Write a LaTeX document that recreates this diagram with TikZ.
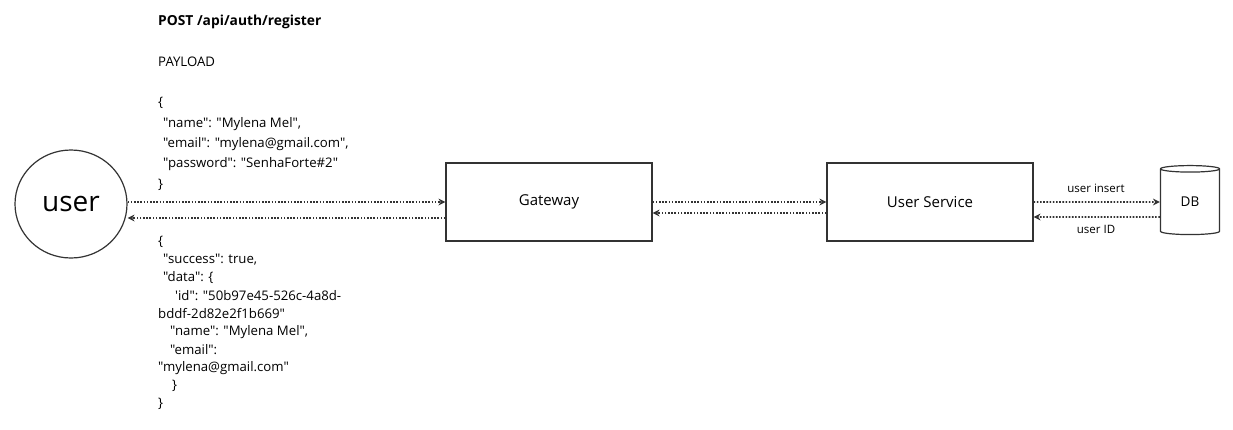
\documentclass[tikz,border=0pt]{standalone}
\usepackage{fontspec}
\setmainfont{Open Sans}[Ligatures=TeXOff]
\usetikzlibrary{arrows.meta,shapes.geometric,calc}
\definecolor{ink}{HTML}{333333}
\tikzset{
  x=1pt,y=-1pt,
  txt/.style={anchor=west,inner sep=0pt,text=black,font=\fontsize{13.2}{15}\selectfont},
  lbl/.style={inner sep=0pt,text=black,font=\fontsize{11.5}{13}\selectfont},
  boxs/.style={draw=ink,line width=1.2pt,minimum width=206pt,minimum height=78pt,inner sep=0pt,font=\fontsize{15}{17}\selectfont},
  arr/.style={draw=ink,line width=1.6pt,dash pattern=on 1.6pt off 1.6pt,-{Stealth[length=7pt,width=7pt,line width=0pt]}}
}
\begin{document}
\begin{tikzpicture}
\useasboundingbox (0,0) rectangle (1233,429);
% user
\node[ellipse,draw=ink,line width=1.2pt,minimum width=112pt,minimum height=108pt,inner sep=0pt,font=\fontsize{28}{30}\selectfont] (user) at (71,204) {user};
% boxes
\node[boxs] (gw) at (549,202) {Gateway};
\node[boxs] (us) at (930,202) {User Service};
\node[cylinder,shape border rotate=90,draw=ink,line width=1.2pt,minimum width=59pt,minimum height=69pt,aspect=0.35,inner sep=0pt,font=\fontsize{13.5}{15}\selectfont] (db) at (1190,202) {DB};
% header texts
\node[txt,font=\bfseries\fontsize{13.8}{15}\selectfont] (hdr) at (158,22) {POST /api/auth/register};
\node[txt] (pl) at (158,62) {PAYLOAD};
\node[txt] (p1) at (158,103) {\{};
\node[txt] (p2) at (163,124) {"name": "Mylena Mel",};
\node[txt] (p3) at (163,144) {"email": "mylena@gmail.com",};
\node[txt] (p4) at (163,164) {"password": "SenhaForte\#2"};
\node[txt] (p5) at (158,185) {\}};
% response
\node[txt] (r1) at (158,242) {\{};
\node[txt] (r2) at (163,260) {"success": true,};
\node[txt] (r3) at (163,278) {"data": \{};
\node[txt] (r4) at (175,296) {'id": "50b97e45-526c-4a8d-};
\node[txt] (r5) at (158,314) {bddf-2d82e2f1b669"};
\node[txt] (r6) at (170,332) {"name": "Mylena Mel",};
\node[txt] (r7) at (170,350) {"email":};
\node[txt] (r8) at (158,368) {"mylena@gmail.com"};
\node[txt] (r9) at (172,386) {\}};
\node[txt] (r10) at (158,404) {\}};
% connectors
\draw[arr] ([yshift=2pt]user.east) -- ([yshift=2pt]user.east -| gw.west);
\draw[arr] ([yshift=-16pt]gw.west) -- ([yshift=-16pt]gw.west -| user.east);
\draw[arr] (gw.east) -- (us.west);
\draw[arr] ([yshift=-11pt]us.west) -- ([yshift=-11pt]gw.east);
\draw[arr] (us.east) -- (db.west);
\draw[arr] ([yshift=-15pt]db.west) -- ([yshift=-15pt]us.east);
\node[lbl] (l1) at (1096,188) {user insert};
\node[lbl] (l2) at (1096,229) {user ID};
\end{tikzpicture}
\end{document}
